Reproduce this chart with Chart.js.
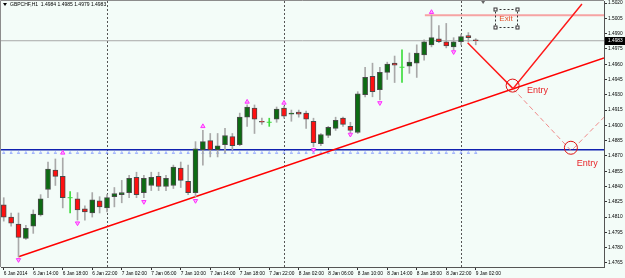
<!DOCTYPE html>
<html lang="en">
<head>
<meta charset="UTF-8" />
<title>GBPCHF,H1</title>
<script src="https://cdn.jsdelivr.net/npm/chart.js"></script>
<style>
  * { margin: 0; padding: 0; box-sizing: border-box; }
  body { background: #f3fcf8; width: 625px; height: 278px; overflow: hidden; }
  canvas { display: block; }
</style>
</head>
<body>
<canvas id="chart" width="625" height="278"></canvas>
<script>
// H1 candles, bar 0 = 6 Jan 2014 10:00
const opens = [1.4822,1.4810,1.4803,1.4789,1.4801,1.4812,1.4837,1.4856,1.4850,1.4829,
  1.4828,1.4818,1.4814,1.4826,1.4819,1.4830,1.4832,1.4834,1.4849,1.4834,
  1.4841,1.4850,1.4840,1.4841,1.4858,1.4845,1.4834,1.4876,1.4885,1.4876,
  1.4881,1.4889,1.4881,1.4908,1.4917,1.4904,1.4903,1.4906,1.4917,1.4911,
  1.4913,1.4912,1.4904,1.4882,1.4890,1.4897,1.4907,1.4899,1.4893,1.4930,
  1.4948,1.4935,1.4952,1.4961,1.4957,1.4958,1.4961,1.4969,1.4979,1.4985,
  1.4982,1.4977,1.4982,1.4988,1.4984];
const highs = [1.4829,1.4814,1.4814,1.4802,1.4817,1.4832,1.4864,1.4867,1.4868,1.4835,
  1.4834,1.4821,1.4834,1.4830,1.4832,1.4839,1.4846,1.4851,1.4854,1.4851,
  1.4854,1.4854,1.4851,1.4861,1.4864,1.4861,1.4884,1.4895,1.4892,1.4892,
  1.4897,1.4892,1.4912,1.4920,1.4920,1.4907,1.4907,1.4918,1.4919,1.4915,
  1.4915,1.4914,1.4907,1.4892,1.4899,1.4908,1.4908,1.4903,1.4933,1.4957,
  1.4961,1.4957,1.4962,1.4968,1.4974,1.4971,1.4979,1.4984,1.5008,1.4998,
  1.5000,1.4986,1.4989,1.4991,1.4985];
const lows = [1.4806,1.4801,1.4771,1.4788,1.4794,1.4811,1.4829,1.4841,1.4819,1.4814,
  1.4807,1.4807,1.4810,1.4814,1.4815,1.4820,1.4824,1.4829,1.4829,1.4829,
  1.4836,1.4836,1.4836,1.4838,1.4839,1.4832,1.4830,1.4861,1.4869,1.4869,
  1.4873,1.4876,1.4880,1.4899,1.4892,1.4901,1.4899,1.4903,1.4907,1.4904,
  1.4908,1.4897,1.4879,1.4880,1.4888,1.4895,1.4899,1.4892,1.4892,1.4928,
  1.4928,1.4925,1.4945,1.4942,1.4942,1.4951,1.4947,1.4964,1.4977,1.4981,
  1.4976,1.4974,1.4979,1.4982,1.4979];
const closes = [1.4810,1.4804,1.4790,1.4799,1.4813,1.4828,1.4857,1.4850,1.4829,1.4829,
  1.4817,1.4815,1.4827,1.4820,1.4829,1.4833,1.4834,1.4848,1.4832,1.4848,
  1.4849,1.4840,1.4848,1.4859,1.4846,1.4834,1.4877,1.4884,1.4876,1.4880,
  1.4890,1.4880,1.4908,1.4918,1.4906,1.4903,1.4903,1.4916,1.4909,1.4912,
  1.4911,1.4906,1.4883,1.4891,1.4898,1.4905,1.4901,1.4895,1.4931,1.4947,
  1.4933,1.4952,1.4960,1.4959,1.4957,1.4962,1.4971,1.4982,1.4986,1.4982,
  1.4978,1.4982,1.4987,1.4986,1.4983];

const tickBars = [0,4,8,12,16,20,24,28,32,36,40,44,48,52,56,60,64];
const tickLabels = ['6 Jan 2014','6 Jan 14:00','6 Jan 18:00','6 Jan 22:00','7 Jan 02:00','7 Jan 06:00',
  '7 Jan 10:00','7 Jan 14:00','7 Jan 18:00','7 Jan 22:00','8 Jan 02:00','8 Jan 06:00','8 Jan 10:00',
  '8 Jan 14:00','8 Jan 18:00','8 Jan 22:00','9 Jan 02:00'];
const priceTicks = [1.5020,1.5005,1.4990,1.4975,1.4960,1.4945,1.4930,1.4915,1.4900,1.4885,
  1.4870,1.4855,1.4840,1.4825,1.4810,1.4795,1.4780,1.4765];
const separatorBars = [14, 38, 62];

const upFractalBars = [8, 27, 33, 38, 58];
const upFractalPrices = [1.4873, 1.4899, 1.4923, 1.4922, 1.5011];
const downFractalBars = [2, 10, 19, 26, 42, 47, 51, 61];
const downFractalPrices = [1.4768, 1.4804, 1.4825, 1.4826, 1.4876, 1.4891, 1.4922, 1.4972];

const levelPrice = 1.4876;     // blue horizontal
const levelMarkPrice = 1.4873; // blue carets under it
const exitPrice = 1.5008;
const exitFromBar = 57.1;
const trendX = [2, 81.39];
const trendY = [1.4771, 1.4966];
const vLineX = [62.9, 69.05, 78.4];
const vLineY = [1.4981, 1.4936, 1.5019];
const dashLineX = [69.05, 76.95, 81.39];
const dashLineY = [1.4936, 1.4875, 1.4908];
const entryX = [69.0, 76.9];
const entryY = [1.4939, 1.4878];

const xMin = -0.373, xMax = 81.39;
const yMin = 1.4761, yMax = 1.5022;

const bars = opens.map((o, i) => i);
const last = bars.length - 1;
const isDoji = i => opens[i] === closes[i];

const mt4Overlay = {
  id: 'mt4Overlay',
  beforeDraw(chart) {
    const {ctx, width, height} = chart;
    ctx.save();
    ctx.fillStyle = '#f3fcf8';
    ctx.fillRect(0, 0, width, height);
    ctx.restore();
  },
  beforeDatasetsDraw(chart) {
    const {ctx, chartArea: a, scales: {x}} = chart;
    ctx.save();
    ctx.strokeStyle = '#555';
    ctx.lineWidth = 1;
    ctx.setLineDash([2, 2]);
    separatorBars.forEach(b => {
      const px = Math.round(x.getPixelForValue(b)) + 0.5;
      ctx.beginPath(); ctx.moveTo(px, a.top); ctx.lineTo(px, a.bottom); ctx.stroke();
    });
    ctx.restore();
  },
  afterDraw(chart) {
    const {ctx, chartArea: a, scales: {x, y}} = chart;
    ctx.save();
    // frame top / left
    ctx.strokeStyle = '#8c8c8c';
    ctx.lineWidth = 1;
    ctx.beginPath();
    ctx.moveTo(0.5, a.bottom); ctx.lineTo(0.5, 0.5); ctx.lineTo(a.right, 0.5);
    ctx.stroke();

    // header
    ctx.fillStyle = '#000';
    ctx.beginPath(); ctx.moveTo(3, 3); ctx.lineTo(7, 3); ctx.lineTo(5, 6); ctx.fill();
    ctx.font = '5px "Liberation Sans"';
    ctx.textBaseline = 'middle';
    ctx.fillText('GBPCHF,H1  ' + [opens[last], highs[last], lows[last], closes[last]].map(v => v.toFixed(4)).join(' '), 10, 5);

    // chart shift marker
    const sx = x.getPixelForValue(65);
    ctx.fillStyle = '#666';
    ctx.beginPath(); ctx.moveTo(sx - 2, a.top); ctx.lineTo(sx + 2, a.top); ctx.lineTo(sx, a.top + 3); ctx.fill();

    // Entry labels
    ctx.fillStyle = '#e8262a';
    ctx.font = '9px "Liberation Sans"';
    ctx.textAlign = 'left';
    ctx.fillText('Entry', x.getPixelForValue(70.95), y.getPixelForValue(1.4934));
    ctx.fillText('Entry', x.getPixelForValue(77.7), y.getPixelForValue(1.4863));

    // Exit label with selection box
    const ex = x.getPixelForValue(68.1), ey = y.getPixelForValue(1.5005);
    ctx.fillStyle = '#e4502a';
    ctx.font = '8px "Liberation Sans"';
    ctx.textAlign = 'center';
    ctx.fillText('Exit', ex, ey);
    ctx.strokeStyle = '#333';
    ctx.setLineDash([2, 2]);
    ctx.strokeRect(Math.round(ex - 11) + 0.5, Math.round(ey - 9) + 0.5, 22, 18);
    ctx.setLineDash([]);
    [[-11, -9], [11, -9], [-11, 9], [11, 9]].forEach(([dx, dy]) => {
      const cx = Math.round(ex + dx), cy = Math.round(ey + dy);
      ctx.fillStyle = '#fff';
      ctx.fillRect(cx - 1.5, cy - 1.5, 4, 4);
      ctx.strokeRect(cx - 1, cy - 1, 3, 3);
    });

    // current price box on the axis
    const py = Math.round(y.getPixelForValue(closes[last]));
    ctx.fillStyle = '#000';
    ctx.fillRect(a.right + 1, py - 4, 20, 8);
    ctx.fillStyle = '#fff';
    ctx.font = '4.8px "Liberation Sans"';
    ctx.textAlign = 'left';
    ctx.fillText(closes[last].toFixed(4), a.right + 4, py);
    ctx.restore();
  }
};

Chart.defaults.font.family = '"Liberation Sans", sans-serif';

new Chart(document.getElementById('chart'), {
  type: 'bar',
  data: {
    datasets: [
      { type: 'line', data: [{x: xMin, y: closes[last]}, {x: xMax, y: closes[last]}],
        borderColor: '#a8a8a8', borderWidth: 1, pointRadius: 0, order: 30 },
      { type: 'line', data: [{x: xMin, y: levelPrice}, {x: xMax, y: levelPrice}],
        borderColor: '#1020b0', borderWidth: 1.5, pointRadius: 0, order: 29 },
      { type: 'line', data: [{x: exitFromBar, y: exitPrice}, {x: xMax, y: exitPrice}],
        borderColor: '#f6a3a3', borderWidth: 2, pointRadius: 0, order: 28 },
      { type: 'line', data: bars.map(i => ({x: i, y: levelMarkPrice})), showLine: false,
        pointStyle: 'triangle', pointRadius: 1.3, pointBorderColor: '#7088ff',
        pointBackgroundColor: 'rgba(0,0,0,0)', pointBorderWidth: 0.6, order: 27 },
      { type: 'line', data: trendX.map((v, i) => ({x: v, y: trendY[i]})),
        borderColor: '#ff0000', borderWidth: 1.5, pointRadius: 0, order: 26 },
      { type: 'bar', data: bars.map(i => ({x: i, y: [lows[i], highs[i]]})),
        backgroundColor: bars.map(i => isDoji(i) ? '#3ddc3d' : '#a9a9a9'),
        barThickness: 1, grouped: false, order: 20 },
      { type: 'bar', data: bars.map(i => ({x: i, y: [opens[i], closes[i]]})),
        backgroundColor: bars.map(i => closes[i] > opens[i] ? '#0c6b12' : '#ff1010'),
        borderColor: '#4a4a4a', borderWidth: 1, borderSkipped: false,
        barThickness: 5, grouped: false, order: 19 },
      { type: 'line', data: bars.filter(isDoji).map(i => ({x: i, y: closes[i]})), showLine: false,
        pointStyle: 'line', pointRadius: 2.5, pointBorderColor: '#3ddc3d', pointBorderWidth: 1, order: 18 },
      { type: 'line', data: upFractalBars.map((b, i) => ({x: b, y: upFractalPrices[i]})), showLine: false,
        pointStyle: 'triangle', pointRadius: 2.5, pointBorderColor: '#ff30ff',
        pointBackgroundColor: '#ffa6ff', pointBorderWidth: 1, order: 10 },
      { type: 'line', data: downFractalBars.map((b, i) => ({x: b, y: downFractalPrices[i]})), showLine: false,
        pointStyle: 'triangle', rotation: 180, pointRadius: 2.5, pointBorderColor: '#ff30ff',
        pointBackgroundColor: '#ffa6ff', pointBorderWidth: 1, order: 10 },
      { type: 'line', data: vLineX.map((v, i) => ({x: v, y: vLineY[i]})),
        borderColor: '#ff1a1a', borderWidth: 1.5, pointRadius: 0, order: 5 },
      { type: 'line', data: dashLineX.map((v, i) => ({x: v, y: dashLineY[i]})),
        borderColor: '#f08a8a', borderWidth: 1, borderDash: [5, 3], pointRadius: 0, order: 5 },
      { type: 'line', data: entryX.map((v, i) => ({x: v, y: entryY[i]})), showLine: false,
        pointStyle: 'circle', pointRadius: 6.5, pointBorderColor: '#e01010',
        pointBackgroundColor: 'rgba(0,0,0,0)', pointBorderWidth: 1, order: 4 }
    ]
  },
  options: {
    responsive: false,
    animation: false,
    devicePixelRatio: 1,
    events: [],
    layout: { autoPadding: false, padding: { left: 1, top: 1, right: 0, bottom: 0 } },
    plugins: { legend: { display: false }, tooltip: { enabled: false } },
    scales: {
      x: {
        type: 'linear', min: xMin, max: xMax, offset: false, bounds: 'data',
        afterBuildTicks: s => { s.ticks = tickBars.map(v => ({value: v})); },
        afterFit: s => { s.height = 11; s.paddingLeft = 0; s.paddingRight = 0; },
        ticks: { autoSkip: false, maxRotation: 0, align: 'start', padding: 1, color: '#000',
          font: { size: 4.8 }, callback: (v, i) => tickLabels[i] },
        grid: { drawOnChartArea: false, offset: false, tickLength: 3, color: '#333' },
        border: { color: '#555' }
      },
      y: {
        position: 'right', min: yMin, max: yMax, bounds: 'data',
        afterBuildTicks: s => { s.ticks = priceTicks.map(v => ({value: v})); },
        afterFit: s => { s.width = 21; s.paddingTop = 0; s.paddingBottom = 0; },
        ticks: { autoSkip: false, padding: 1, color: '#000', font: { size: 4.8 },
          callback: v => Number(v).toFixed(4) },
        grid: { drawOnChartArea: false, tickLength: 3, color: '#333' },
        border: { color: '#555' }
      }
    }
  },
  plugins: [mt4Overlay]
});
</script>
</body>
</html>
